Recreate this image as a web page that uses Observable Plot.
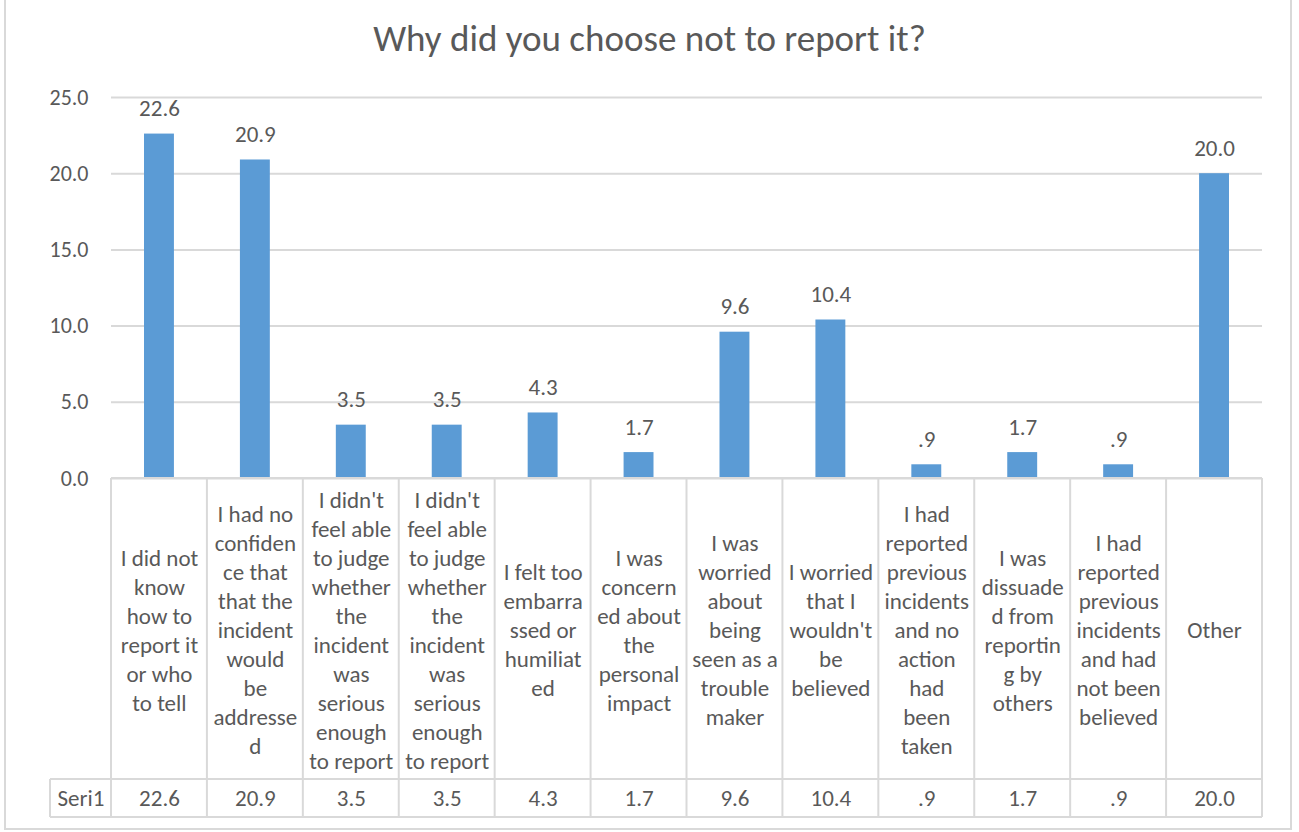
<!DOCTYPE html>
<html>
<head>
<meta charset="utf-8">
<script src="https://cdn.jsdelivr.net/npm/d3@7"></script>
<script src="https://cdn.jsdelivr.net/npm/@observablehq/plot@0.6"></script>
<style>
  html, body { margin: 0; padding: 0; background: #fff; }
  #wrap { position: relative; width: 1299px; height: 832px; overflow: hidden; font-family: Carlito, Calibri, Lato, sans-serif; }
  #box { position: absolute; left: 4px; top: -2px; width: 1288px; height: 832px; border: 2px solid #d9d9d9; box-sizing: border-box; }
  #title { position: absolute; left: 0; top: 18px; width: 1299px; text-align: center; font-size: 37px; line-height: 42px; color: #595959; }
  #chart { position: absolute; left: 0; top: 0; }
</style>
</head>
<body>
<div id="wrap">
  <div id="box"></div>
  <div id="chart"></div>
  <div id="title">Why did you choose not to report it?</div>
</div>
<script>
// Categories (full text) and the wrapped labels as shown in the table cells
const categories = [
  "I did not know how to report it or who to tell",
  "I had no confidence that that the incident would be addressed",
  "I didn't feel able to judge whether the incident was serious enough to report",
  "I didn't feel able to judge whether the incident was serious enough to report",
  "I felt too embarrassed or humiliated",
  "I was concerned about the personal impact",
  "I was worried about being seen as a trouble maker",
  "I worried that I wouldn't be believed",
  "I had reported previous incidents and no action had been taken",
  "I was dissuaded from reporting by others",
  "I had reported previous incidents and had not been believed",
  "Other"
];
const wrappedLabels = [
  "I did not\nknow\nhow to\nreport it\nor who\nto tell",
  "I had no\nconfiden\nce that\nthat the\nincident\nwould\nbe\naddresse\nd",
  "I didn't\nfeel able\nto judge\nwhether\nthe\nincident\nwas\nserious\nenough\nto report",
  "I didn't\nfeel able\nto judge\nwhether\nthe\nincident\nwas\nserious\nenough\nto report",
  "I felt too\nembarra\nssed or\nhumiliat\ned",
  "I was\nconcern\ned about\nthe\npersonal\nimpact",
  "I was\nworried\nabout\nbeing\nseen as a\ntrouble\nmaker",
  "I worried\nthat I\nwouldn't\nbe\nbelieved",
  "I had\nreported\nprevious\nincidents\nand no\naction\nhad\nbeen\ntaken",
  "I was\ndissuade\nd from\nreportin\ng by\nothers",
  "I had\nreported\nprevious\nincidents\nand had\nnot been\nbelieved",
  "Other"
];
const values = [22.6, 20.9, 3.5, 3.5, 4.3, 1.7, 9.6, 10.4, 0.9, 1.7, 0.9, 20.0];
const seriesName = "Seri1";
const yTicks = [0, 5, 10, 15, 20, 25];

const data = categories.map((c, i) => ({idx: i, category: c, label: wrappedLabels[i], value: values[i]}));
const fmt = v => v.toFixed(1).replace(/^0\./, ".");

const TEXT = "#595959";
const GRID = "#d9d9d9";
const BAR = "#5B9BD5";
const FONT = "Carlito, Calibri, Lato, sans-serif";

// Layout constants (pixels)
const CELL_H = 301;   // category label cells below the axis
const ROW_H = 38;     // data row height
const HEAD_W = 61;    // "Seri1" header cell width

function tableGrid(index, scales, values_, dimensions) {
  const {width, height, marginLeft, marginRight, marginBottom} = dimensions;
  const x = scales.x;
  const y0 = height - marginBottom;
  const bw = (width - marginLeft - marginRight) / categories.length;
  const left = marginLeft, right = width - marginRight;
  const g = d3.create("svg:g").attr("stroke", GRID).attr("stroke-width", 2).attr("fill", "none");
  const edges = data.map(d => x(d.idx)).concat([x(data[data.length - 1].idx) + bw]);
  for (const ex of edges) {
    g.append("line").attr("x1", ex).attr("x2", ex).attr("y1", y0).attr("y2", y0 + CELL_H + ROW_H);
  }
  g.append("line").attr("x1", left - HEAD_W).attr("x2", left - HEAD_W).attr("y1", y0 + CELL_H).attr("y2", y0 + CELL_H + ROW_H);
  g.append("line").attr("x1", left).attr("x2", right).attr("y1", y0).attr("y2", y0);
  g.append("line").attr("x1", left - HEAD_W).attr("x2", right).attr("y1", y0 + CELL_H).attr("y2", y0 + CELL_H);
  g.append("line").attr("x1", left - HEAD_W).attr("x2", right).attr("y1", y0 + CELL_H + ROW_H).attr("y2", y0 + CELL_H + ROW_H);
  return g.node();
}

const chart = Plot.plot({
  width: 1299,
  height: 832,
  marginLeft: 111,
  marginRight: 37,
  marginTop: 97,
  marginBottom: 354,
  style: {fontFamily: FONT, color: TEXT, background: "transparent", overflow: "visible"},
  x: {type: "band", domain: data.map(d => d.idx), padding: 0, round: false, axis: null},
  y: {domain: [0, 25], ticks: yTicks, axis: null},
  marks: [
    Plot.gridY(yTicks, {stroke: GRID, strokeOpacity: 1, strokeWidth: 2}),
    Plot.axisY(yTicks, {tickSize: 0, tickPadding: 23, tickFormat: d => d.toFixed(1), fontSize: 22, fill: TEXT, label: null}),
    Plot.barY(data, {x: "idx", y: "value", fill: BAR, insetLeft: 33, insetRight: 33}),
    Plot.text(data, {x: "idx", y: "value", text: d => fmt(d.value), lineAnchor: "bottom", dy: -18, fontSize: 23, fill: TEXT}),
    tableGrid,
    Plot.text(data, {x: "idx", text: "label", frameAnchor: "bottom", dy: CELL_H / 2, lineAnchor: "middle", lineHeight: 1.26, fontSize: 23, fill: TEXT}),
    Plot.text(data, {x: "idx", text: d => fmt(d.value), frameAnchor: "bottom", dy: CELL_H + ROW_H / 2, lineAnchor: "middle", fontSize: 23, fill: TEXT}),
    Plot.text([seriesName], {text: d => d, frameAnchor: "bottom-left", dx: -HEAD_W / 2, dy: CELL_H + ROW_H / 2, lineAnchor: "middle", textAnchor: "middle", fontSize: 23, fill: TEXT})
  ]
});
document.getElementById("chart").appendChild(chart);
</script>
</body>
</html>
